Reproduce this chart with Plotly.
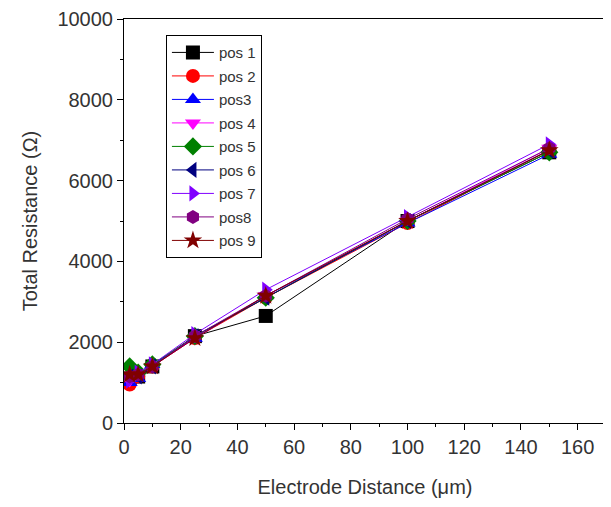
import plotly.graph_objects as go

distance = [2, 5, 10, 25, 50, 100, 150]
names = ["pos 1", "pos 2", "pos3", "pos 4", "pos 5", "pos 6", "pos 7", "pos8", "pos 9"]
pos1 = [1100, 1150, 1400, 2150, 2650, 5000, 6700]
pos2 = [950, 1150, 1400, 2100, 3100, 4950, 6750]
pos3 = [1000, 1100, 1450, 2100, 3150, 4950, 6650]
pos4 = [1050, 1200, 1400, 2100, 3150, 5000, 6800]
pos5 = [1400, 1250, 1450, 2150, 3100, 5000, 6700]
pos6 = [1150, 1150, 1400, 2150, 3100, 5000, 6750]
pos7 = [1050, 1250, 1450, 2200, 3300, 5100, 6900]
pos8 = [1150, 1200, 1400, 2150, 3150, 5050, 6800]
pos9 = [1200, 1200, 1400, 2100, 3150, 5000, 6750]
series = [pos1, pos2, pos3, pos4, pos5, pos6, pos7, pos8, pos9]

colors = ["#000000", "#ff0000", "#0000ff", "#ff00ff", "#008000", "#000080", "#8000ff", "#800080", "#800000"]
symbols = ["square", "circle", "triangle-up", "triangle-down", "diamond", "triangle-left",
           "triangle-right", "hexagon", "star"]

fig = go.Figure()
for i, (nm, vals) in enumerate(zip(names, series)):
    fig.add_trace(go.Scatter(
        x=distance, y=vals, name=nm, mode="lines+markers",
        line=dict(color=colors[i], width=1),
        marker=dict(symbol=symbols[i], size=14, color=colors[i]),
        legendgroup="g%d" % i,
    ))

FONT = "Liberation Sans, Arial"
TXT = "#333333"

def axis(**kw):
    d = dict(
        showline=True, linecolor="black", linewidth=1, mirror=True,
        ticks="outside", ticklen=6, tickcolor="black",
        showgrid=False, zeroline=False, automargin=False,
        tickfont=dict(family=FONT, size=20, color=TXT),
    )
    d.update(kw)
    return d

fig.update_layout(
    width=611, height=507,
    margin=dict(l=116, r=13, t=11, b=92),
    paper_bgcolor="white", plot_bgcolor="white",
    font=dict(family=FONT, color=TXT),
    xaxis=axis(range=[0, 170], tickvals=list(range(0, 161, 20)),
               minor=dict(ticks="outside", ticklen=3, tickcolor="black", dtick=10),
               title=dict(text="Electrode Distance (μm)", font=dict(family=FONT, size=20, color=TXT), standoff=22)),
    yaxis=axis(range=[0, 10000], dtick=2000, tickformat="d",
               minor=dict(ticks="outside", ticklen=3, tickcolor="black", dtick=1000),
               title=dict(text="Total Resistance (Ω)", font=dict(family=FONT, size=20, color=TXT), standoff=14)),
    legend=dict(x=0.087, y=0.96, xanchor="left", yanchor="top",
                bordercolor="black", borderwidth=1, bgcolor="white",
                font=dict(family=FONT, size=15, color=TXT),
                tracegroupgap=1, itemwidth=42),
    showlegend=True,
)

fig.write_html("out.html")
